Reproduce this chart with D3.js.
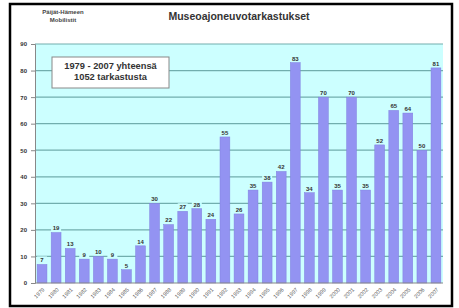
<!DOCTYPE html>
<html><head><meta charset="utf-8">
<script src="https://cdn.jsdelivr.net/npm/d3@7"></script>
<style>body{margin:0;background:#fff}svg{display:block}</style>
</head><body>
<script>
const years = ["1979","1980","1981","1982","1983","1984","1985","1986","1987","1988","1989","1990","1991","1992","1993","1994","1995","1996","1997","1998","1999","2000","2001","2002","2003","2004","2005","2006","2007"];
const inspections = [7,19,13,9,10,9,5,14,30,22,27,28,24,55,26,35,38,42,83,34,70,35,70,35,52,65,64,50,81];
const yTicks = [0,10,20,30,40,50,60,70,80,90];
const title = "Museoajoneuvotarkastukset";
const orgLines = ["Päijät-Hämeen","Mobilistit"];
const noteLines = ["1979 - 2007  yhteensä","1052 tarkastusta"];

const W = 459, H = 308;
const svg = d3.select("body").append("svg").attr("width", W).attr("height", H);
const plot = {l:35, r:443, t:44, b:283};

svg.append("rect").attr("x",10).attr("y",4).attr("width",442).attr("height",302)
  .attr("fill","#fff").attr("stroke","#000").attr("stroke-width",2.5);

svg.append("rect").attr("x",plot.l).attr("y",plot.t).attr("width",plot.r-plot.l).attr("height",plot.b-plot.t)
  .attr("fill","#ccffff");

const x = d3.scaleBand().domain(years).range([plot.l, plot.r]).paddingInner(0.3).paddingOuter(0.15);
const y = d3.scaleLinear().domain([0,90]).range([plot.b, plot.t]);

// gridlines
svg.append("g").selectAll("line").data(yTicks.filter(d=>d>0)).join("line")
  .attr("x1",plot.l).attr("x2",plot.r).attr("y1",d=>y(d)).attr("y2",d=>y(d))
  .attr("stroke","#72aeae").attr("stroke-width",1.2);

// y axis
const yAxis = svg.append("g").attr("transform",`translate(${plot.l},0)`)
  .call(d3.axisLeft(y).tickValues(yTicks).tickSize(4).tickPadding(4));
yAxis.select(".domain").attr("stroke","#888");
yAxis.selectAll(".tick line").attr("stroke","#888");
yAxis.selectAll("text").attr("font-family","Liberation Sans, Arial, sans-serif")
  .attr("font-size",6).attr("font-weight","bold").attr("fill","#333");

// bars
svg.append("g").selectAll("rect").data(inspections).join("rect")
  .attr("x",(d,i)=>x(years[i])).attr("width",x.bandwidth())
  .attr("y",d=>y(d)).attr("height",d=>y(0)-y(d))
  .attr("fill","#9393f2").attr("stroke","#8080e0").attr("stroke-width",0.5);

// bar value labels with background
const lab = svg.append("g").selectAll("g").data(inspections).join("g")
  .attr("transform",(d,i)=>`translate(${x(years[i])+x.bandwidth()/2},${y(d)-4})`);
lab.append("rect").attr("x",-5).attr("y",-4).attr("width",10).attr("height",7).attr("fill","#ccffff");
lab.append("text").attr("text-anchor","middle").attr("dy","0.32em")
  .attr("font-family","Liberation Sans, Arial, sans-serif").attr("font-size",6)
  .attr("font-weight","bold").attr("fill","#333").text(d=>d);

// x axis
svg.append("line").attr("x1",plot.l).attr("x2",plot.r).attr("y1",plot.b).attr("y2",plot.b).attr("stroke","#888");
svg.append("g").selectAll("text").data(years).join("text")
  .attr("transform",d=>`translate(${x(d)+x.bandwidth()/2+3},${plot.b+7}) rotate(-45)`)
  .attr("text-anchor","end").attr("font-family","Liberation Sans, Arial, sans-serif")
  .attr("font-size",5.5).attr("fill","#555").text(d=>d);

// title
svg.append("text").attr("x",239).attr("y",20).attr("text-anchor","middle")
  .attr("font-family","Liberation Sans, Arial, sans-serif").attr("font-size",10.5)
  .attr("font-weight","bold").attr("fill","#333").text(title);

svg.append("g").selectAll("text").data(orgLines).join("text")
  .attr("x",63).attr("y",(d,i)=>14+i*8).attr("text-anchor","middle")
  .attr("font-family","Liberation Sans, Arial, sans-serif").attr("font-size",6)
  .attr("font-weight","bold").attr("fill","#444").text(d=>d);

// note box
svg.append("rect").attr("x",52).attr("y",57).attr("width",117).attr("height",31)
  .attr("fill","#fff").attr("stroke","#888").attr("stroke-width",1);
svg.append("g").selectAll("text").data(noteLines).join("text")
  .attr("x",110.5).attr("y",(d,i)=>69+i*11).attr("text-anchor","middle")
  .attr("font-family","Liberation Sans, Arial, sans-serif").attr("font-size",9.3)
  .attr("font-weight","bold").attr("fill","#333").text(d=>d);
</script>
</body></html>
